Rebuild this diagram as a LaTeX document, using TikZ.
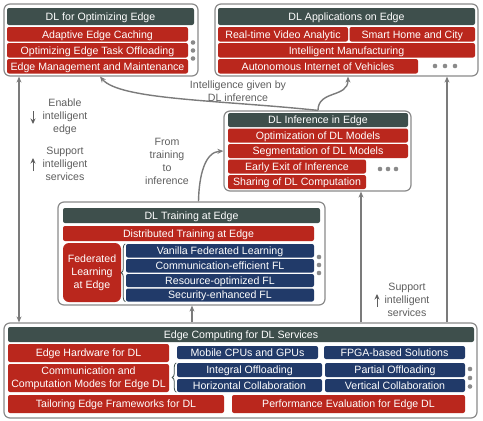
\documentclass[tikz,border=0pt]{standalone}
\usepackage{fontspec}
\setmainfont{Liberation Sans}
\usetikzlibrary{arrows.meta,decorations.pathreplacing}
\definecolor{hdr}{HTML}{3E4F4C}
\definecolor{rd}{HTML}{BA271D}
\definecolor{bl}{HTML}{213A69}
\definecolor{gr}{HTML}{8A8A8A}
\definecolor{ar}{HTML}{7B7B7B}
\definecolor{lb}{HTML}{5E5E5E}
\newcommand\bx[7]{\pgfmathsetmacro\bxw{#5-#3}\pgfmathsetmacro\bxh{#6-#4}%
  \pgfmathsetmacro\bxx{(#3+#5)/2}\pgfmathsetmacro\bxy{(#4+#6)/2}%
  \node[#1, minimum width=\bxw pt, minimum height=\bxh pt] (#2) at (\bxx,\bxy) {#7};}
\newcommand\dt[3]{\node[dotst] (#1) at (#2,#3) {};}
\begin{document}
\begin{tikzpicture}[x=1pt,y=-1pt,
  font=\fontsize{10.6}{13}\selectfont,
  outer/.style={draw=gr, line width=1.2pt, rounded corners=6pt, fill=white, inner sep=0pt},
  boxbase/.style={inner sep=0pt, text=white, rounded corners=2pt, text height=7.6pt, text depth=0pt},
  hdrbox/.style={boxbase, fill=hdr},
  redbox/.style={boxbase, fill=rd},
  bluebox/.style={boxbase, fill=bl},
  multi/.style={text height={}, text depth={}, align=center},
  dotst/.style={circle, fill=gr, inner sep=0pt, minimum size=4.6pt},
  arr/.style={draw=ar, line width=1.4pt, -{Stealth[length=6pt,width=5pt]}},
  sarr/.style={draw=lb, line width=1pt, -{Stealth[length=5.5pt,width=5pt]}},
  lab/.style={text=lb, align=center, inner sep=0pt},
  brc/.style={draw=hdr, line width=0.8pt, decorate, decoration={brace, amplitude=4pt}}
]
\useasboundingbox (0,0) rectangle (483,421);

% ---------- Box 1 ----------
\bx{outer}{o1}{4}{4}{198}{76}{}
\bx{hdrbox}{h1}{7}{8}{194}{25}{DL for Optimizing Edge}
\bx{redbox}{r11}{7}{27}{188}{41.5}{Adaptive Edge Caching}
\bx{redbox}{r12}{7}{43}{188}{57.5}{Optimizing Edge Task Offloading}
\bx{redbox}{r13}{7}{59}{188}{73.5}{Edge Management and Maintenance}
\dt{d11}{193}{42.5}\dt{d12}{193}{50.5}\dt{d13}{193}{58.5}

% ---------- Box 2 ----------
\bx{outer}{o2}{215}{4}{478}{76}{}
\bx{hdrbox}{h2}{218}{8}{475}{25}{DL Applications on Edge}
\bx{redbox}{r21}{218}{27}{348}{41.5}{Real-time Video Analytic}
\bx{redbox}{r22}{349.5}{27}{475}{41.5}{Smart Home and City}
\bx{redbox}{r23}{218}{43}{475}{57.5}{Intelligent Manufacturing}
\bx{redbox}{r24}{218}{59}{418}{73.5}{Autonomous Internet of Vehicles}
\dt{d21}{435}{66}\dt{d22}{445}{66}\dt{d23}{455}{66}

% ---------- Box 3 ----------
\bx{outer}{o3}{224}{111}{411}{191}{}
\bx{hdrbox}{h3}{228}{113}{408}{127}{DL Inference in Edge}
\bx{redbox}{r31}{228}{128.5}{408}{142.5}{Optimization of DL Models}
\bx{redbox}{r32}{228}{144}{408}{158}{Segmentation of DL Models}
\bx{redbox}{r33}{228}{159.5}{366}{173.5}{Early Exit of Inference}
\bx{redbox}{r34}{228}{175}{366}{189}{Sharing of DL Computation}
\dt{d31}{380}{169}\dt{d32}{388}{169}\dt{d33}{396}{169}

% ---------- Box 4 ----------
\bx{outer}{o4}{58}{202}{325}{305}{}
\bx{hdrbox}{h4}{63}{208}{320}{223}{DL Training at Edge}
\bx{redbox}{r41}{63}{226}{314}{241}{Distributed Training at Edge}
\bx{redbox,multi,rounded corners=6pt}{r42}{63}{243}{121}{302}{Federated\\Learning\\at Edge}
\bx{bluebox}{b41}{126}{244}{314}{257.5}{Vanilla Federated Learning}
\bx{bluebox}{b42}{126}{259}{314}{272.5}{Communication-efficient FL}
\bx{bluebox}{b43}{126}{274}{314}{287}{Resource-optimized FL}
\bx{bluebox}{b44}{126}{288.5}{314}{301.5}{Security-enhanced FL}
\dt{d41}{319}{257}\dt{d42}{319}{265}\dt{d43}{319}{273}
\draw[brc] (b44.south west) ++(-0.5,0) coordinate (bra1) -- (b41.north west -| bra1);

% ---------- Box 5 ----------
\bx{outer}{o5}{4}{323}{477}{418}{}
\bx{hdrbox}{h5}{8}{327}{474}{342}{Edge Computing for DL Services}
\bx{redbox}{r51}{8}{344}{169}{362}{Edge Hardware for DL}
\bx{bluebox}{b51}{177}{346}{318}{359}{Mobile CPUs and GPUs}
\bx{bluebox}{b52}{324}{346}{465}{359}{FPGA-based Solutions}
\bx{redbox,multi}{r52}{8}{364}{169}{392}{Communication and\\Computation Modes for Edge DL}
\bx{bluebox}{b53}{177}{363}{322}{377}{Integral Offloading}
\bx{bluebox}{b54}{325}{363}{465}{377}{Partial Offloading}
\bx{bluebox}{b55}{177}{379}{322}{392}{Horizontal Collaboration}
\bx{bluebox}{b56}{325}{379}{465}{392}{Vertical Collaboration}
\bx{redbox}{r53}{8}{395}{224}{413}{Tailoring Edge Frameworks for DL}
\bx{redbox}{r54}{232}{395}{465}{413}{Performance Evaluation for Edge DL}
\dt{d51}{470}{369}\dt{d52}{470}{378}\dt{d53}{470}{386.5}
\draw[brc] (b55.south west) ++(-0.5,0) coordinate (bra2) -- (b53.north west -| bra2);

% ---------- Connectors ----------
\coordinate (xa) at (19,0);
\coordinate (xb) at (318,0);
\coordinate (xc) at (100,0);
\coordinate (xd) at (348,0);
\coordinate (xe) at (198.5,0);
\coordinate (xf) at (192,0);
\coordinate (xg) at (361,0);
\coordinate (xh) at (447,0);

\draw[arr, {Stealth[length=6pt,width=5pt]}-{Stealth[length=6pt,width=5pt]}] (xa |- o1.south) -- (xa |- o5.north);
\draw[arr] (xb |- o3.north) .. controls (220,100) and (120,100) .. (xc |- o1.south);
\draw[arr] (xb |- o3.north) .. controls (318,90) and (348,98) .. (xd |- o2.south);
\draw[arr] (xe |- o4.north) .. controls (199,175) and (205,152) .. (o3.west);
\draw[arr] (xf |- o5.north) -- (xf |- o4.south);
\draw[arr] (xg |- o5.north) -- (xg |- o3.south);
\draw[arr] (xh |- o5.north) -- (xh |- o2.south);

% ---------- Labels ----------
\node[lab] (l1) at (65,117) {Enable\\intelligent\\edge};
\coordinate (s1a) at (33,111); \coordinate (s1b) at (33,124);
\draw[sarr] (s1a) -- (s1b);
\node[lab] (l2) at (65,164) {Support\\intelligent\\services};
\coordinate (s2a) at (33,171); \coordinate (s2b) at (33,158);
\draw[sarr] (s2a) -- (s2b);
\node[lab] (l3) at (167,161.5) {From\\training\\to\\inference};
\node[lab] (l4) at (238,91) {Intelligence given by\\DL inference};
\node[lab] (l5) at (407,300) {Support\\intelligent\\services};
\coordinate (s3a) at (377,307); \coordinate (s3b) at (377,294);
\draw[sarr] (s3a) -- (s3b);
\end{tikzpicture}
\end{document}
